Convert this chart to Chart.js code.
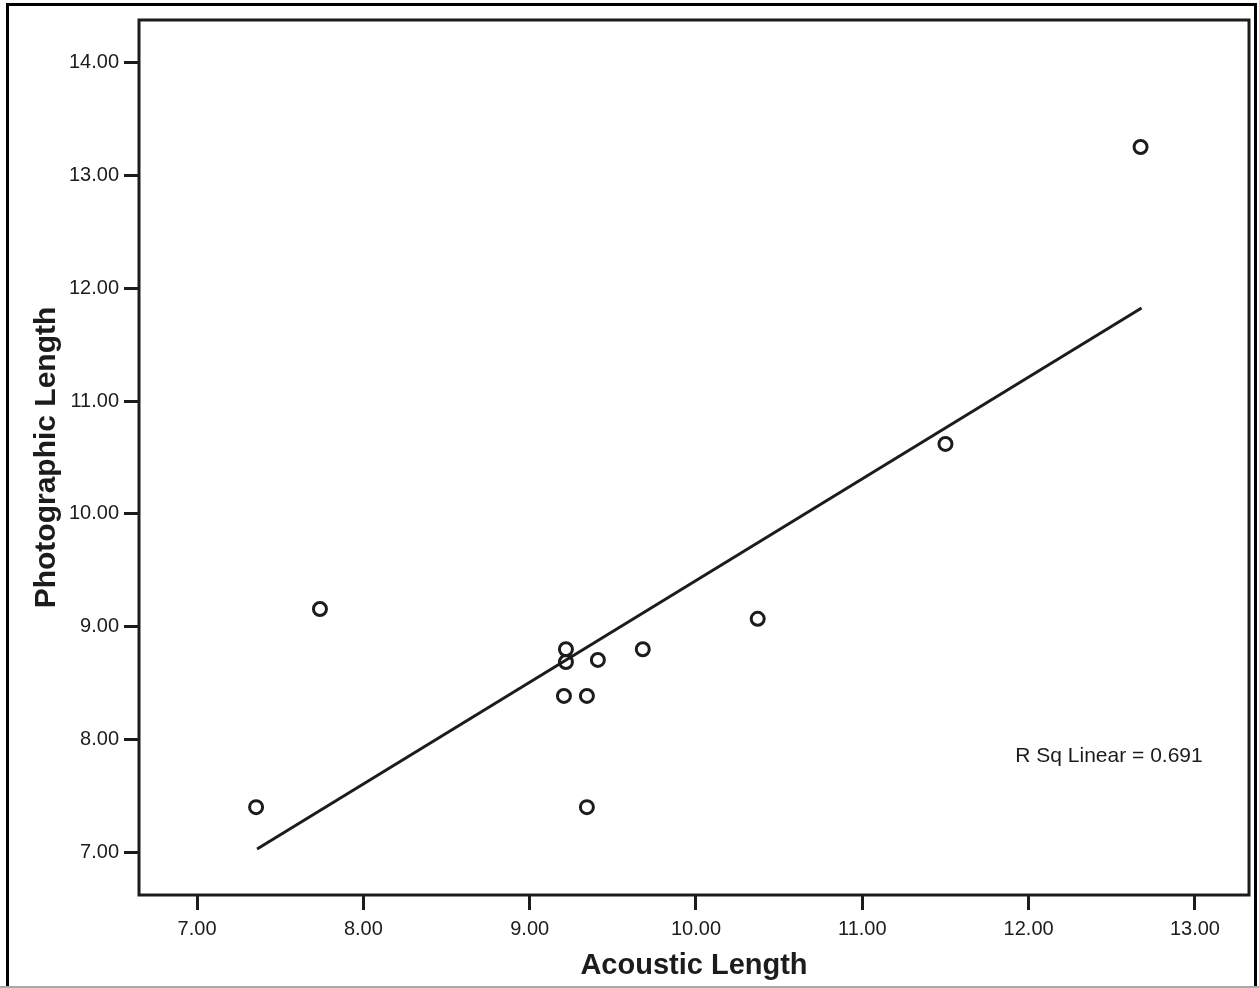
<!DOCTYPE html>
<html>
<head>
<meta charset="utf-8">
<script src="https://cdn.jsdelivr.net/npm/chart.js@4"></script>
<style>
  html, body { margin: 0; padding: 0; background: #fff; }
  #wrap { position: relative; width: 1259px; height: 988px; }
</style>
</head>
<body>
<div id="wrap"><canvas id="c" width="1259" height="988"></canvas></div>
<script>
// Measurements: acoustic vs photographic length
const acousticLength     = [7.355, 7.739, 9.218, 9.218, 9.206, 9.344, 9.344, 9.410, 9.680, 10.371, 11.500, 12.673];
const photographicLength = [7.400, 9.157, 8.800, 8.687, 8.386, 8.386, 7.400, 8.705, 8.800, 9.070, 10.620, 13.253];

// Fitted linear regression line (end points)
const fitLineX = [7.361, 12.679];
const fitLineY = [7.029, 11.825];

const xTickValues = [7, 8, 9, 10, 11, 12, 13];
const yTickValues = [7, 8, 9, 10, 11, 12, 13, 14];
const rSquared = 0.691;

const ink = '#1c1c1c';
const FONT = "'Liberation Sans', Arial, Helvetica, sans-serif";

const points = acousticLength.map((x, i) => ({ x: x, y: photographicLength[i] }));
const fitLine = fitLineX.map((x, i) => ({ x: x, y: fitLineY[i] }));

// Frame around the plot area, outer page frame and the R² note
const decorations = {
  id: 'decorations',
  beforeDatasetsDraw(chart) {
    const { ctx, chartArea: a } = chart;
    ctx.save();
    ctx.strokeStyle = ink;
    ctx.lineWidth = 3;
    ctx.strokeRect(a.left, a.top, a.right - a.left, a.bottom - a.top);
    ctx.restore();
  },
  afterDraw(chart) {
    const { ctx, scales } = chart;
    ctx.save();
    // outer frame
    ctx.strokeStyle = '#000';
    ctx.lineWidth = 3;
    ctx.beginPath();
    ctx.moveTo(7.5, 988);
    ctx.lineTo(7.5, 4.5);
    ctx.lineTo(1255.5, 4.5);
    ctx.lineTo(1255.5, 988);
    ctx.stroke();
    ctx.strokeStyle = '#a8a8a8';
    ctx.lineWidth = 2;
    ctx.beginPath();
    ctx.moveTo(0, 987);
    ctx.lineTo(1259, 987);
    ctx.stroke();
    // R squared note
    ctx.fillStyle = ink;
    ctx.font = "21px " + FONT;
    ctx.textAlign = 'left';
    ctx.textBaseline = 'middle';
    ctx.fillText('R Sq Linear = ' + rSquared.toFixed(3),
      scales.x.getPixelForValue(11.92), scales.y.getPixelForValue(7.85));
    ctx.restore();
  }
};

new Chart(document.getElementById('c'), {
  type: 'scatter',
  data: {
    datasets: [
      {
        label: 'Observed',
        data: points,
        pointStyle: 'circle',
        pointRadius: 6.5,
        pointHoverRadius: 6.5,
        pointBorderWidth: 3,
        pointBackgroundColor: 'rgba(255,255,255,0)',
        pointBorderColor: ink
      },
      {
        label: 'Linear fit',
        type: 'line',
        data: fitLine,
        showLine: true,
        pointRadius: 0,
        borderColor: ink,
        borderWidth: 3,
        fill: false
      }
    ]
  },
  options: {
    responsive: false,
    animation: false,
    devicePixelRatio: 1,
    layout: { padding: { top: 20, right: 10, left: 0, bottom: 0 } },
    plugins: {
      legend: { display: false },
      tooltip: { enabled: false }
    },
    scales: {
      x: {
        type: 'linear',
        min: 6.651,
        max: 13.325,
        afterBuildTicks(scale) { scale.ticks = xTickValues.map(v => ({ value: v })); },
        afterFit(scale) { scale.height = 93; },
        border: { display: false },
        grid: { drawOnChartArea: false, drawTicks: true, tickLength: 15, tickWidth: 3, tickColor: ink },
        ticks: {
          padding: 7,
          color: ink,
          font: { family: FONT, size: 20 },
          maxRotation: 0,
          callback: v => Number(v).toFixed(2)
        },
        title: {
          display: true,
          text: 'Acoustic Length',
          color: ink,
          font: { family: FONT, size: 29, weight: 'bold' },
          padding: { top: 0, bottom: 5 }
        }
      },
      y: {
        type: 'linear',
        min: 6.621,
        max: 14.379,
        afterBuildTicks(scale) { scale.ticks = yTickValues.map(v => ({ value: v })); },
        afterFit(scale) { scale.width = 139; },
        border: { display: false },
        grid: { drawOnChartArea: false, drawTicks: true, tickLength: 15, tickWidth: 3, tickColor: ink },
        ticks: {
          padding: 5,
          color: ink,
          font: { family: FONT, size: 20 },
          callback: v => Number(v).toFixed(2)
        },
        title: {
          display: true,
          text: 'Photographic Length',
          color: ink,
          font: { family: FONT, size: 30, weight: 'bold' },
          padding: { top: 29, bottom: 0 }
        }
      }
    }
  },
  plugins: [decorations]
});
</script>
</body>
</html>
